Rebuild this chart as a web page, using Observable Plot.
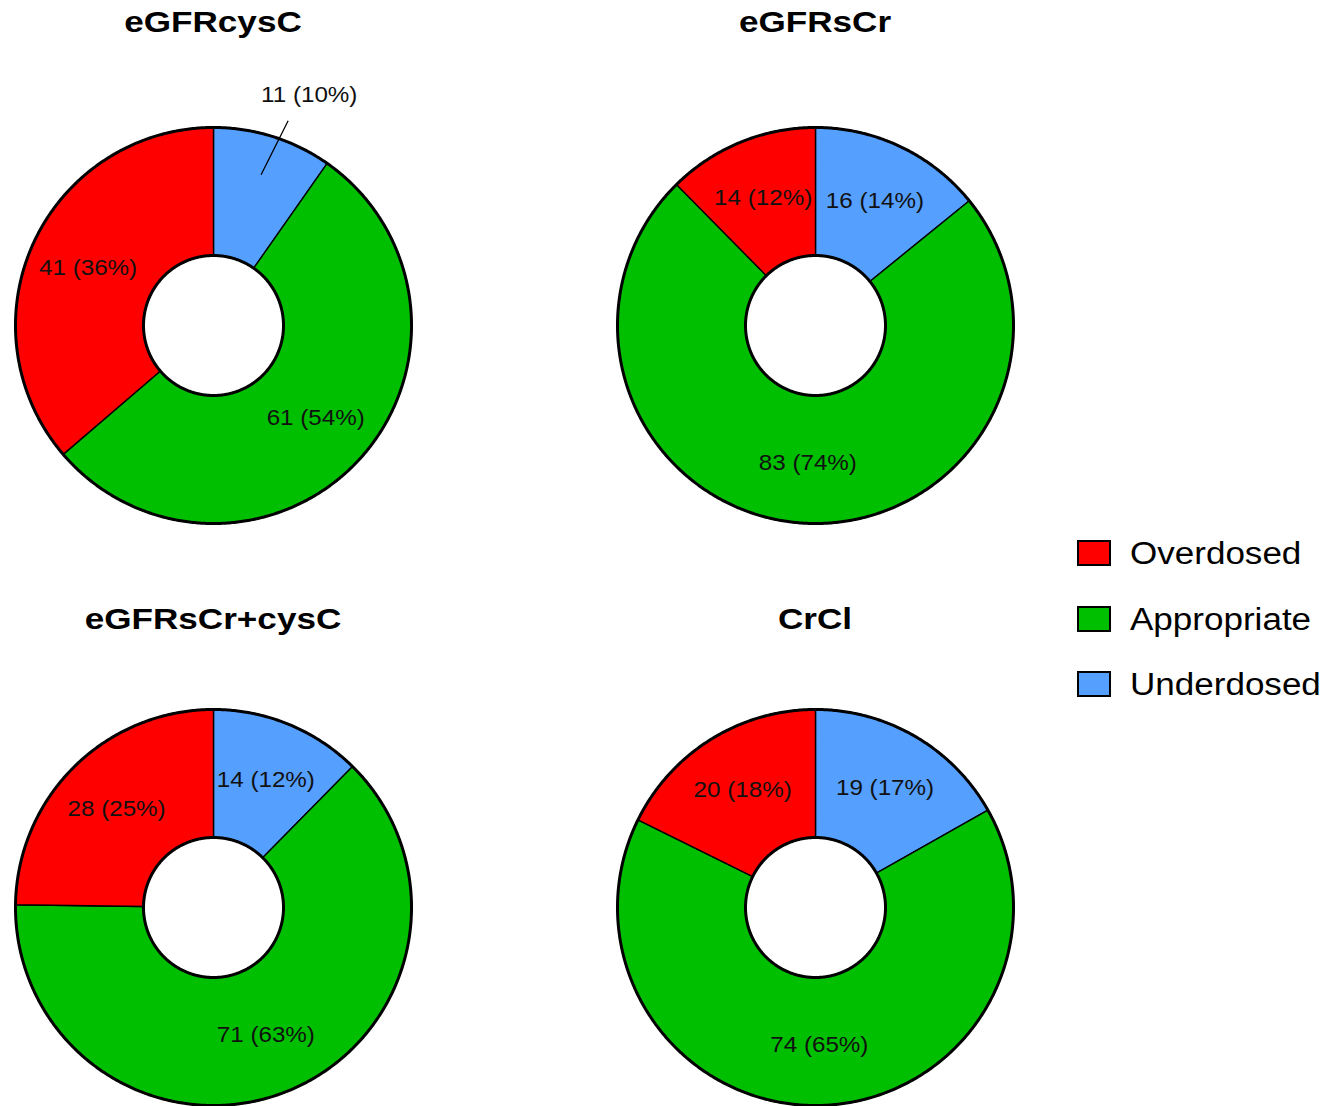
<!DOCTYPE html>
<html><head><meta charset="utf-8">
<script src="https://cdn.jsdelivr.net/npm/d3@7"></script>
<script src="https://cdn.jsdelivr.net/npm/@observablehq/plot@0.6"></script>
<style>
html,body{margin:0;padding:0;background:#fff;overflow:hidden;width:1340px;height:1106px;}
body{position:relative;font-family:"Liberation Sans",Arial,sans-serif;}
.panel{position:absolute;}
.title{position:absolute;width:440px;text-align:center;font-weight:bold;font-size:30px;line-height:30px;color:#000;transform:scaleX(1.17);transform-origin:center;}
.sw{position:absolute;width:30px;height:22px;border:2px solid #000;}
.lt{position:absolute;font-size:31px;line-height:31px;color:#000;white-space:nowrap;transform:scaleX(1.13);transform-origin:left center;}
</style></head><body>
<script>
// ---- data ----
const categories = ["Overdosed", "Appropriate", "Underdosed"];
const colors = ["#FF0000", "#00BF00", "#559FFF"];
const methods = ["eGFRcysC", "eGFRsCr", "eGFRsCr+cysC", "CrCl"];
const overdosed = [41, 14, 28, 20];
const appropriate = [61, 83, 71, 74];
const underdosed = [11, 16, 14, 19];
const overdosedPct = [36, 12, 25, 18];
const appropriatePct = [54, 74, 63, 65];
const underdosedPct = [10, 14, 12, 17];

// ---- layout ----
const centers = [[213, 325], [815, 325], [213, 907], [815, 907]];
const titleTops = [7, 7, 604, 604];
const R = 0.99, r0 = 0.35;
const W = 440, H = 480, yTop = 1.38, yBot = -1.02;

const polar = (r, a) => ({x: r * Math.sin(a), y: r * Math.cos(a)});
const deg = Math.PI / 180;

// widen label glyphs in place (the reference's type is broader than Arial)
const widenText = (k) => (index, scales, values, dims, context, next) => {
  const g = next(index, scales, values, dims, context);
  d3.select(g).selectAll("text").attr("transform", function () {
    return (this.getAttribute("transform") || "") + ` scale(${k},1)`;
  });
  return g;
};

function donut(i) {
  // clockwise from 12 o'clock: Underdosed, Appropriate, Overdosed
  const order = [
    {cat: "Underdosed", v: underdosed[i], pct: underdosedPct[i]},
    {cat: "Appropriate", v: appropriate[i], pct: appropriatePct[i]},
    {cat: "Overdosed", v: overdosed[i], pct: overdosedPct[i]}
  ];
  const total = d3.sum(order, d => d.v);
  let acc = 0;
  const slices = order.map(d => {
    const a0 = acc / total * 2 * Math.PI; acc += d.v;
    const a1 = acc / total * 2 * Math.PI;
    return {...d, a0, a1, mid: (a0 + a1) / 2, frac: d.v / total};
  });
  const pts = [];
  for (const s of slices) {
    const n = Math.max(2, Math.ceil((s.a1 - s.a0) / (0.5 * deg)));
    const ring = [];
    for (let k = 0; k <= n; k++) ring.push(polar(R, s.a0 + (s.a1 - s.a0) * k / n));
    for (let k = n; k >= 0; k--) ring.push(polar(r0, s.a0 + (s.a1 - s.a0) * k / n));
    ring.push(ring[0]);
    for (const p of ring) pts.push({...p, cat: s.cat});
  }
  const circ = [];
  for (const [name, rr] of [["outer", R], ["inner", r0]]) {
    for (let k = 0; k <= 720; k++) circ.push({...polar(rr, k * 0.5 * deg), ring: name});
  }
  const labels = slices.map(s => {
    const outside = s.frac < 0.11;
    const p = outside ? polar(1.25, s.mid + 5 * deg) : polar(0.69, s.mid);
    return {...p, text: `${s.v} (${s.pct}%)`};
  });
  const leaders = slices.filter(s => s.frac < 0.11).map(s => {
    const a = polar(0.79, s.mid), b = polar(1.09, s.mid + 2.5 * deg);
    return {x1: a.x, y1: a.y, x2: b.x, y2: b.y};
  });
  return Plot.plot({
    width: W, height: H,
    margin: 0,
    x: {domain: [-W / 400, W / 400], axis: null},
    y: {domain: [yBot, yTop], axis: null},
    color: {domain: categories, range: colors},
    style: {fontFamily: '"Liberation Sans", Arial, sans-serif', background: "transparent", overflow: "visible"},
    marks: [
      Plot.line(pts, {x: "x", y: "y", z: "cat", fill: "cat", stroke: "#000", strokeWidth: 1.4, curve: "linear", strokeLinejoin: "miter"}),
      Plot.line(circ, {x: "x", y: "y", z: "ring", stroke: "#000", strokeWidth: 3, fill: "none", curve: "linear"}),
      Plot.link(leaders, {x1: "x1", y1: "y1", x2: "x2", y2: "y2", stroke: "#000", strokeWidth: 1.3}),
      Plot.text(labels, {x: "x", y: "y", text: "text", fontSize: 22, fill: "#111", render: widenText(1.1)})
    ]
  });
}

methods.forEach((m, i) => {
  const [cx, cy] = centers[i];
  const div = document.createElement("div");
  div.className = "panel";
  div.style.left = (cx - W / 2) + "px";
  div.style.top = (cy - yTop * 200) + "px";
  div.appendChild(donut(i));
  document.body.appendChild(div);
  const t = document.createElement("div");
  t.className = "title";
  t.textContent = m;
  t.style.left = (cx - W / 2) + "px";
  t.style.top = titleTops[i] + "px";
  document.body.appendChild(t);
});

// legend
categories.forEach((c, j) => {
  const sw = document.createElement("div");
  sw.className = "sw";
  sw.style.left = "1077px";
  sw.style.top = (540 + j * 65.5) + "px";
  sw.style.background = colors[j];
  document.body.appendChild(sw);
  const lt = document.createElement("div");
  lt.className = "lt";
  lt.textContent = c;
  lt.style.left = "1130px";
  lt.style.top = (538 + j * 65.5) + "px";
  document.body.appendChild(lt);
});
</script>
</body></html>
